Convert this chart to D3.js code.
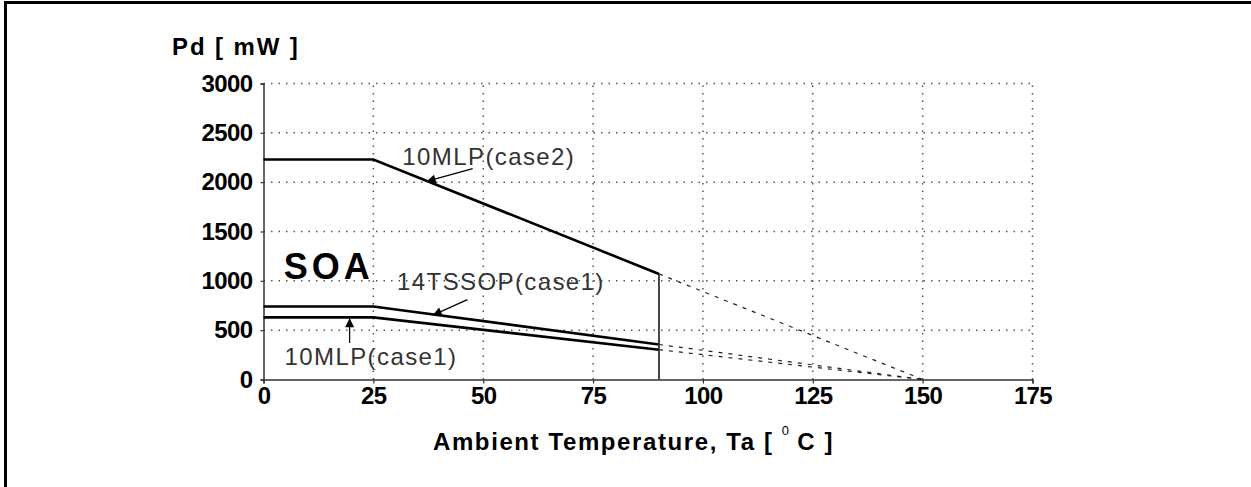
<!DOCTYPE html>
<html><head><meta charset="utf-8">
<script src="https://cdn.jsdelivr.net/npm/d3@7"></script>
<style>
html,body{margin:0;padding:0;background:#fff;}
svg{display:block;}
</style></head>
<body>
<script>
// ---- data ----
const xTicks = [0, 25, 50, 75, 100, 125, 150, 175];
const yTicks = [0, 500, 1000, 1500, 2000, 2500, 3000];
// solid derating curves (temperature °C, Pd mW)
const mlpCase2 = [[0, 2230], [25, 2230], [90, 1070]];
const tssopCase1 = [[0, 740], [25, 740], [90, 355]];
const mlpCase1 = [[0, 630], [25, 630], [90, 302]];
// dashed extrapolations to Tj max
const mlpCase2Ext = [[90, 1070], [150, 0]];
const tssopCase1Ext = [[90, 355], [150, 0]];
const mlpCase1Ext = [[90, 302], [150, 0]];
// vertical limit line at 90 °C
const limitLine = [[90, 0], [90, 1070]];
// annotations: label, text anchor [t, Pd], arrow tail, arrow head
const labels = ["10MLP(case2)", "14TSSOP(case1)", "10MLP(case1)"];
const labelPos = [[31.6, 2169], [30.4, 907], [4.8, 142]];
const arrowTail = [[47.6, 2138], [46.4, 810], [19.6, 370]];
const arrowHead = [[37.3, 2010], [38.7, 655], [19.6, 612]];
const soaText = "SOA";
const soaPos = [4.6, 1020];

const W = 1251, H = 487;
const svg = d3.select("body").append("svg").attr("width", W).attr("height", H);

// frame (top and left edges)
svg.append("line").attr("x1", 4).attr("y1", 2.5).attr("x2", W).attr("y2", 2.5).attr("stroke", "#000").attr("stroke-width", 3);
svg.append("line").attr("x1", 5.5).attr("y1", 1).attr("x2", 5.5).attr("y2", H).attr("stroke", "#000").attr("stroke-width", 3);

const x = d3.scaleLinear().domain([0, 175]).range([263.5, 1032.5]);
const y = d3.scaleLinear().domain([0, 3000]).range([379.5, 83.5]);

const defs = svg.append("defs");
defs.append("marker").attr("id", "ah").attr("viewBox", "0 0 10 10").attr("refX", 9).attr("refY", 5)
  .attr("markerWidth", 12).attr("markerHeight", 9).attr("markerUnits", "userSpaceOnUse").attr("orient", "auto")
  .append("path").attr("d", "M0,0 L10,5 L0,10 Z").attr("fill", "#000");

// grid
const grid = svg.append("g");
grid.selectAll(".hg").data(yTicks.filter(d => d > 0)).join("line")
  .attr("x1", x(0)).attr("x2", x(175)).attr("y1", d => y(d)).attr("y2", d => y(d))
  .attr("stroke", "#555").attr("stroke-width", 1.5).attr("stroke-dasharray", "1.5,6");
grid.selectAll(".vg").data(xTicks.filter(d => d > 0)).join("line")
  .attr("x1", d => x(d)).attr("x2", d => x(d)).attr("y1", y(0)).attr("y2", y(3000))
  .attr("stroke", "#555").attr("stroke-width", 1.5).attr("stroke-dasharray", "1.5,6");

// axes
const font = "'Liberation Sans', Arial, sans-serif";
const yAxis = svg.append("g").attr("transform", `translate(${x(0)},0)`)
  .call(d3.axisLeft(y).tickValues(yTicks).tickSize(3).tickPadding(8).tickFormat(d3.format("d")));
const xAxis = svg.append("g").attr("transform", `translate(0,${y(0)})`)
  .call(d3.axisBottom(x).tickValues(xTicks).tickSize(4).tickPadding(3).tickFormat(d3.format("d")));
[yAxis, xAxis].forEach(a => {
  a.select(".domain").attr("stroke", "#333").attr("stroke-width", 1.5);
  a.selectAll(".tick line").attr("stroke", "#333").attr("stroke-width", 1.2);
  a.selectAll("text").attr("font-family", font).attr("font-weight", "bold")
    .attr("font-size", 24).attr("letter-spacing", -0.6).attr("fill", "#000");
});

// curves
const line = d3.line().x(d => x(d[0])).y(d => y(d[1]));
[mlpCase2, tssopCase1, mlpCase1].forEach(s => {
  svg.append("path").attr("d", line(s)).attr("fill", "none").attr("stroke", "#000").attr("stroke-width", 2.6);
});
[mlpCase2Ext, tssopCase1Ext, mlpCase1Ext].forEach(s => {
  svg.append("path").attr("d", line(s)).attr("fill", "none").attr("stroke", "#222").attr("stroke-width", 1.2).attr("stroke-dasharray", "4,6");
});
svg.append("path").attr("d", line(limitLine)).attr("fill", "none").attr("stroke", "#333").attr("stroke-width", 1.8);

// annotations
labels.forEach((t, i) => {
  svg.append("text").attr("x", x(labelPos[i][0])).attr("y", y(labelPos[i][1]))
    .attr("font-family", font).attr("font-size", 24).attr("letter-spacing", 1.4)
    .attr("fill", "#333").text(t);
  svg.append("line").attr("x1", x(arrowTail[i][0])).attr("y1", y(arrowTail[i][1]))
    .attr("x2", x(arrowHead[i][0])).attr("y2", y(arrowHead[i][1]))
    .attr("stroke", "#000").attr("stroke-width", 1.2).attr("marker-end", "url(#ah)");
});
svg.append("text").attr("x", x(soaPos[0])).attr("y", y(soaPos[1]))
  .attr("font-family", font).attr("font-weight", "bold").attr("font-size", 36).attr("letter-spacing", 4)
  .attr("fill", "#000").text(soaText);

// axis titles
svg.append("text").attr("x", 172).attr("y", 55)
  .attr("font-family", font).attr("font-weight", "bold").attr("font-size", 24).attr("letter-spacing", 1.9)
  .attr("fill", "#000").attr("xml:space", "preserve").text("Pd [ mW ]");
const xt = svg.append("text").attr("x", 433).attr("y", 450)
  .attr("font-family", font).attr("font-weight", "bold").attr("font-size", 24).attr("letter-spacing", 1.6)
  .attr("fill", "#000").attr("xml:space", "preserve");
xt.append("tspan").text("Ambient Temperature, Ta [ ");
xt.append("tspan").attr("font-size", 13).attr("font-weight", "normal").attr("letter-spacing", 0).attr("dy", -15).text("0");
xt.append("tspan").attr("dy", 15).text(" C ]");
</script>
</body></html>
